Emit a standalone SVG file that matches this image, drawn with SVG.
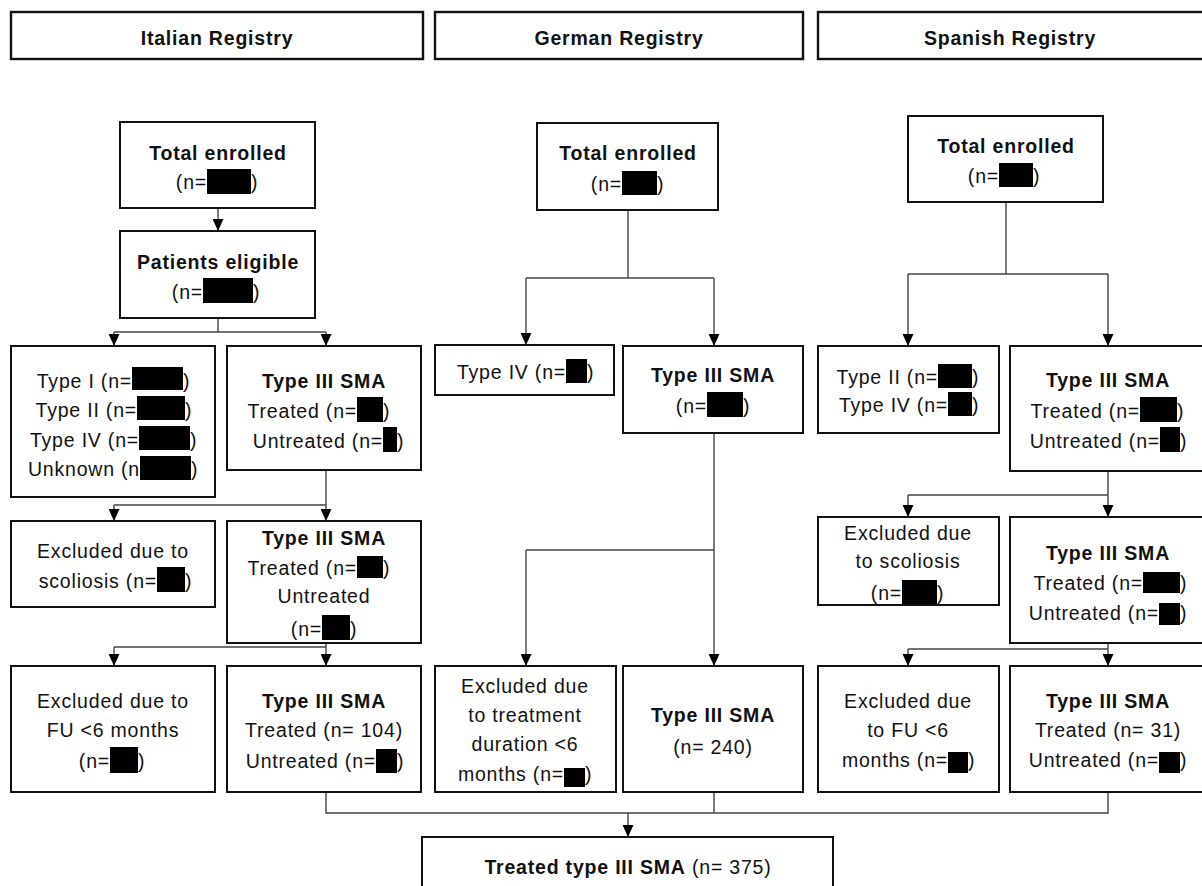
<svg xmlns="http://www.w3.org/2000/svg" width="1202" height="886" viewBox="0 0 1202 886">
<defs>
<marker id="arr" markerWidth="12" markerHeight="11" refX="12" refY="5.5" orient="auto" markerUnits="userSpaceOnUse">
<path d="M0,0 L12,5.5 L0,11 z" fill="#000"/>
</marker>
<style>
.box{fill:#fff;stroke:#111;stroke-width:2}
.hdr{fill:#fff;stroke:#111;stroke-width:2.4}
text{font-family:"Liberation Sans",Arial,sans-serif;font-size:19.5px;letter-spacing:0.8px;fill:#111}
.b{font-weight:bold}
.m{text-anchor:middle}
.e{text-anchor:end}
.red{fill:#000}
.c{fill:none;stroke:#444;stroke-width:1.4}
.ca{fill:none;stroke:#444;stroke-width:1.4;marker-end:url(#arr)}
</style>
</defs>
<rect width="1202" height="886" fill="#fff"/>

<g id="connectors">
<!-- Italian -->
<path class="ca" d="M218,208 V231"/>
<path class="c" d="M218,318 V332 M114,332 H326"/>
<path class="ca" d="M114,332 V346"/>
<path class="ca" d="M326,332 V346"/>
<path class="c" d="M326,470 V505 M114,505 H326"/>
<path class="ca" d="M114,505 V521"/>
<path class="ca" d="M326,505 V521"/>
<path class="c" d="M326,643 V647 M114,647 H326"/>
<path class="ca" d="M114,647 V666"/>
<path class="ca" d="M326,647 V666"/>
<!-- German -->
<path class="c" d="M628,210 V278 M526,278 H714"/>
<path class="ca" d="M526,278 V345"/>
<path class="ca" d="M714,278 V346"/>
<path class="c" d="M714,433 V550 M526,550 H714"/>
<path class="ca" d="M526,550 V666"/>
<path class="ca" d="M714,550 V666"/>
<!-- Spanish -->
<path class="c" d="M1006,202 V274 M908,274 H1108"/>
<path class="ca" d="M908,274 V346"/>
<path class="ca" d="M1108,274 V346"/>
<path class="c" d="M1108,471 V495 M908,495 H1108"/>
<path class="ca" d="M908,495 V517"/>
<path class="ca" d="M1108,495 V517"/>
<path class="c" d="M1108,643 V649 M908,649 H1108"/>
<path class="ca" d="M908,649 V666"/>
<path class="ca" d="M1108,649 V666"/>
<!-- merge -->
<path class="c" d="M326,792 V813 H1108 V792 M714,792 V813"/>
<path class="ca" d="M628,813 V837"/>
</g>

<!-- Headers -->
<g id="hdr-italian"><rect class="hdr" x="11" y="12" width="412" height="47"/><text class="b m" x="217" y="45">Italian Registry</text></g>
<g id="hdr-german"><rect class="hdr" x="435" y="12" width="368" height="47"/><text class="b m" x="619" y="45">German Registry</text></g>
<g id="hdr-spanish"><rect class="hdr" x="818" y="12" width="392" height="47"/><text class="b m" x="1010" y="45">Spanish Registry</text></g>

<!-- Italian column -->
<g id="it-total"><rect class="box" x="120" y="122" width="195" height="86"/>
<text class="b m" x="218" y="160">Total enrolled</text>
<text class="e" x="207" y="189">(n=</text><rect class="red" x="207" y="169" width="44" height="25"/><text x="251" y="189">)</text></g>

<g id="it-eligible"><rect class="box" x="120" y="231" width="195" height="87"/>
<text class="b m" x="218" y="269">Patients eligible</text>
<text class="e" x="203" y="299">(n=</text><rect class="red" x="203" y="278" width="50" height="25"/><text x="253" y="299">)</text></g>

<g id="it-types"><rect class="box" x="11" y="346" width="204" height="151"/>
<text class="e" x="132" y="388">Type I (n=</text><rect class="red" x="132" y="367" width="51" height="23"/><text x="183" y="388">)</text>
<text class="e" x="137" y="417">Type II (n=</text><rect class="red" x="137" y="396" width="48" height="24"/><text x="185" y="417">)</text>
<text class="e" x="139" y="447">Type IV (n=</text><rect class="red" x="139" y="426" width="51" height="24"/><text x="190" y="447">)</text>
<text class="e" x="140" y="476">Unknown  (n</text><rect class="red" x="140" y="456" width="51" height="24"/><text x="191" y="476">)</text></g>

<g id="it-t3a"><rect class="box" x="227" y="346" width="194" height="124"/>
<text class="b m" x="324" y="388">Type III  SMA</text>
<text class="e" x="357" y="418">Treated (n=</text><rect class="red" x="357" y="397" width="26" height="25"/><text x="383" y="418">)</text>
<text class="e" x="383" y="448">Untreated (n=</text><rect class="red" x="383" y="427" width="14" height="25"/><text x="397" y="448">)</text></g>

<g id="it-scoliosis"><rect class="box" x="11" y="521" width="204" height="86"/>
<text class="m" x="113" y="558">Excluded due to</text>
<text class="e" x="157" y="588">scoliosis (n=</text><rect class="red" x="157" y="567" width="28" height="25"/><text x="185" y="588">)</text></g>

<g id="it-t3b"><rect class="box" x="227" y="521" width="194" height="122"/>
<text class="b m" x="324" y="545">Type III  SMA</text>
<text class="e" x="357" y="575">Treated (n=</text><rect class="red" x="357" y="556" width="26" height="22"/><text x="383" y="575">)</text>
<text class="m" x="324" y="603">Untreated</text>
<text class="e" x="322" y="636">(n=</text><rect class="red" x="322" y="615" width="28" height="25"/><text x="350" y="636">)</text></g>

<g id="it-fu"><rect class="box" x="11" y="666" width="204" height="126"/>
<text class="m" x="113" y="708">Excluded due to</text>
<text class="m" x="113" y="737">FU &lt;6 months</text>
<text class="e" x="110" y="768">(n=</text><rect class="red" x="110" y="747" width="28" height="26"/><text x="138" y="768">)</text></g>

<g id="it-t3c"><rect class="box" x="227" y="666" width="194" height="126"/>
<text class="b m" x="324" y="708">Type III  SMA</text>
<text class="m" x="324" y="737">Treated (n= 104)</text>
<text class="e" x="376" y="768">Untreated (n=</text><rect class="red" x="376" y="749" width="21" height="24"/><text x="397" y="768">)</text></g>

<!-- German column -->
<g id="de-total"><rect class="box" x="537" y="123" width="181" height="87"/>
<text class="b m" x="628" y="160">Total enrolled</text>
<text class="e" x="622" y="191">(n=</text><rect class="red" x="622" y="171" width="35" height="24"/><text x="657" y="191">)</text></g>

<g id="de-t4"><rect class="box" x="435" y="345" width="179" height="50"/>
<text class="e" x="566" y="379">Type IV (n=</text><rect class="red" x="566" y="359" width="21" height="24"/><text x="587" y="379">)</text></g>

<g id="de-t3a"><rect class="box" x="623" y="346" width="180" height="87"/>
<text class="b m" x="713" y="382">Type III  SMA</text>
<text class="e" x="707" y="413">(n=</text><rect class="red" x="707" y="392" width="36" height="25"/><text x="743" y="413">)</text></g>

<g id="de-excl"><rect class="box" x="435" y="666" width="181" height="126"/>
<text class="m" x="525" y="693">Excluded due</text>
<text class="m" x="525" y="722">to treatment</text>
<text class="m" x="525" y="751">duration &lt;6</text>
<text class="e" x="564" y="781">months (n=</text><rect class="red" x="564" y="768" width="21" height="19"/><text x="585" y="781">)</text></g>

<g id="de-t3b"><rect class="box" x="623" y="666" width="180" height="126"/>
<text class="b m" x="713" y="722">Type III  SMA</text>
<text class="m" x="713" y="754">(n= 240)</text></g>

<!-- Spanish column -->
<g id="es-total"><rect class="box" x="908" y="116" width="195" height="86"/>
<text class="b m" x="1006" y="153">Total enrolled</text>
<text class="e" x="999" y="183">(n=</text><rect class="red" x="999" y="163" width="34" height="24"/><text x="1033" y="183">)</text></g>

<g id="es-types"><rect class="box" x="818" y="346" width="181" height="87"/>
<text class="e" x="938" y="384">Type II (n=</text><rect class="red" x="938" y="364" width="34" height="24"/><text x="972" y="384">)</text>
<text class="e" x="948" y="412">Type IV (n=</text><rect class="red" x="948" y="392" width="24" height="24"/><text x="972" y="412">)</text></g>

<g id="es-t3a"><rect class="box" x="1010" y="346" width="198" height="125"/>
<text class="b m" x="1108" y="387">Type III  SMA</text>
<text class="e" x="1140" y="418">Treated (n=</text><rect class="red" x="1140" y="397" width="37" height="25"/><text x="1177" y="418">)</text>
<text class="e" x="1160" y="448">Untreated (n=</text><rect class="red" x="1160" y="427" width="20" height="25"/><text x="1180" y="448">)</text></g>

<g id="es-scoliosis"><rect class="box" x="818" y="517" width="181" height="88"/>
<text class="m" x="908" y="540">Excluded due</text>
<text class="m" x="908" y="568">to scoliosis</text>
<text class="e" x="902" y="600">(n=</text><rect class="red" x="902" y="580" width="35" height="24"/><text x="937" y="600">)</text></g>

<g id="es-t3b"><rect class="box" x="1010" y="517" width="198" height="126"/>
<text class="b m" x="1108" y="560">Type III  SMA</text>
<text class="e" x="1143" y="590">Treated (n=</text><rect class="red" x="1143" y="572" width="37" height="21"/><text x="1180" y="590">)</text>
<text class="e" x="1159" y="620">Untreated (n=</text><rect class="red" x="1159" y="603" width="21" height="22"/><text x="1180" y="620">)</text></g>

<g id="es-fu"><rect class="box" x="818" y="666" width="181" height="126"/>
<text class="m" x="908" y="708">Excluded due</text>
<text class="m" x="908" y="737">to FU &lt;6</text>
<text class="e" x="948" y="767">months (n=</text><rect class="red" x="948" y="752" width="20" height="21"/><text x="968" y="767">)</text></g>

<g id="es-t3c"><rect class="box" x="1010" y="666" width="198" height="126"/>
<text class="b m" x="1108" y="708">Type III  SMA</text>
<text class="m" x="1108" y="737">Treated (n= 31)</text>
<text class="e" x="1159" y="767">Untreated (n=</text><rect class="red" x="1159" y="752" width="21" height="21"/><text x="1180" y="767">)</text></g>

<!-- Final -->
<g id="final"><rect class="box" x="422" y="837" width="411" height="55"/>
<text class="m" x="628" y="874"><tspan class="b">Treated type III  SMA</tspan> (n= 375)</text></g>
</svg>
